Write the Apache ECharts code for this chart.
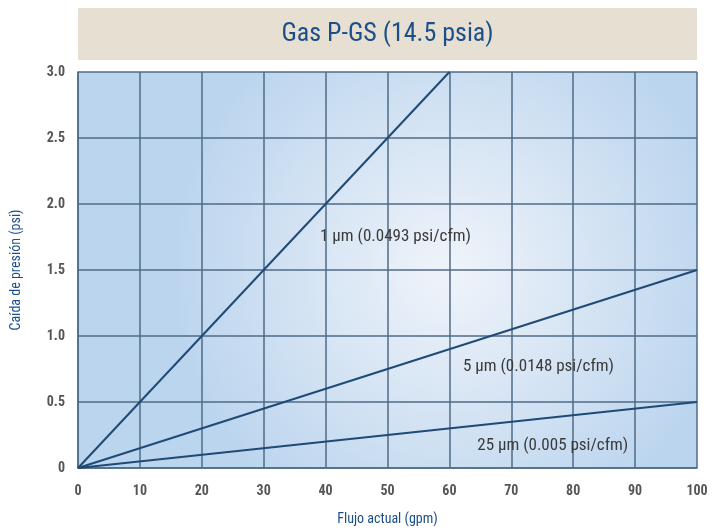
<!DOCTYPE html>
<html><head><meta charset="utf-8">
<script src="https://cdn.jsdelivr.net/npm/echarts@6/dist/echarts.min.js"></script>
<style>html,body{margin:0;padding:0;background:#fff}#c{width:716px;height:531px}</style>
</head><body><div id="c"></div>
<script>
const xTicks = [0,10,20,30,40,50,60,70,80,90,100];
const yTicks = [0,0.5,1.0,1.5,2.0,2.5,3.0];
const s1 = [[0,0],[60,3.0]];
const s5 = [[0,0],[100,1.5]];
const s25 = [[0,0],[100,0.5]];
const labels = ['1 µm (0.0493 psi/cfm)','5 µm (0.0148 psi/cfm)','25 µm (0.005 psi/cfm)'];
const labelPos = [[51.3,1.75],[74.4,0.77],[76.7,0.17]];
const FONT = "'Liberation Sans Narrow','Roboto Condensed','Roboto',sans-serif";
const lineColor = '#1f4a75';
const gridColor = '#4f6b86';
function mkSeries(name, data, i){
  return {
    name, type:'line', data, symbol:'none', silent:true,
    lineStyle:{color:lineColor, width:2},
    markPoint:{symbol:'circle', symbolSize:0, silent:true,
      data:[{coord:labelPos[i], label:{show:true, formatter:labels[i], color:'#3a3a3a', fontSize:17, fontFamily:FONT, position:'inside'}}]}
  };
}
const chart = echarts.init(document.getElementById('c'));
chart.setOption({
  animation:false,
  grid:{left:78,right:19,top:72,bottom:61,show:true,borderWidth:0,
    backgroundColor:{type:'radial',x:0.6,y:0.5,r:0.7,colorStops:[{offset:0,color:'#f0f4fa'},{offset:1,color:'#bcd5ee'}]}},
  graphic:[
    {type:'rect',left:78,top:8,shape:{width:619,height:52},style:{fill:'#e6dfd2'},z:10},
    {type:'text',z:11,style:{x:387.5,y:34,text:'Gas P-GS (14.5 psia)',textAlign:'center',textVerticalAlign:'middle',fill:'#1b4f8a',font:"26px "+FONT}}
  ],
  xAxis:{type:'value',min:0,max:100,interval:10,
    name:'Flujo actual (gpm)',nameLocation:'middle',nameGap:44,
    nameTextStyle:{color:'#1b4f8a',fontSize:14,fontFamily:FONT},
    axisLine:{show:true,lineStyle:{color:gridColor,width:1.5}},
    axisTick:{show:false},
    axisLabel:{color:'#555',fontSize:14,fontFamily:FONT,fontWeight:'bold',margin:16},
    splitLine:{show:true,lineStyle:{color:gridColor,width:1.5}}},
  yAxis:{type:'value',min:0,max:3,interval:0.5,
    name:'Caída de presión (psi)',nameLocation:'middle',nameGap:55,
    nameTextStyle:{color:'#1b4f8a',fontSize:14,fontFamily:FONT},
    axisLine:{show:true,lineStyle:{color:gridColor,width:1.5}},
    axisTick:{show:false},
    axisLabel:{color:'#555',fontSize:14,fontFamily:FONT,fontWeight:'bold',margin:13,
      formatter:v=>v===0?'0':v.toFixed(1)},
    splitLine:{show:true,lineStyle:{color:gridColor,width:1.5}}},
  series:[mkSeries('1',s1,0),mkSeries('5',s5,1),mkSeries('25',s25,2)]
});
</script></body></html>
